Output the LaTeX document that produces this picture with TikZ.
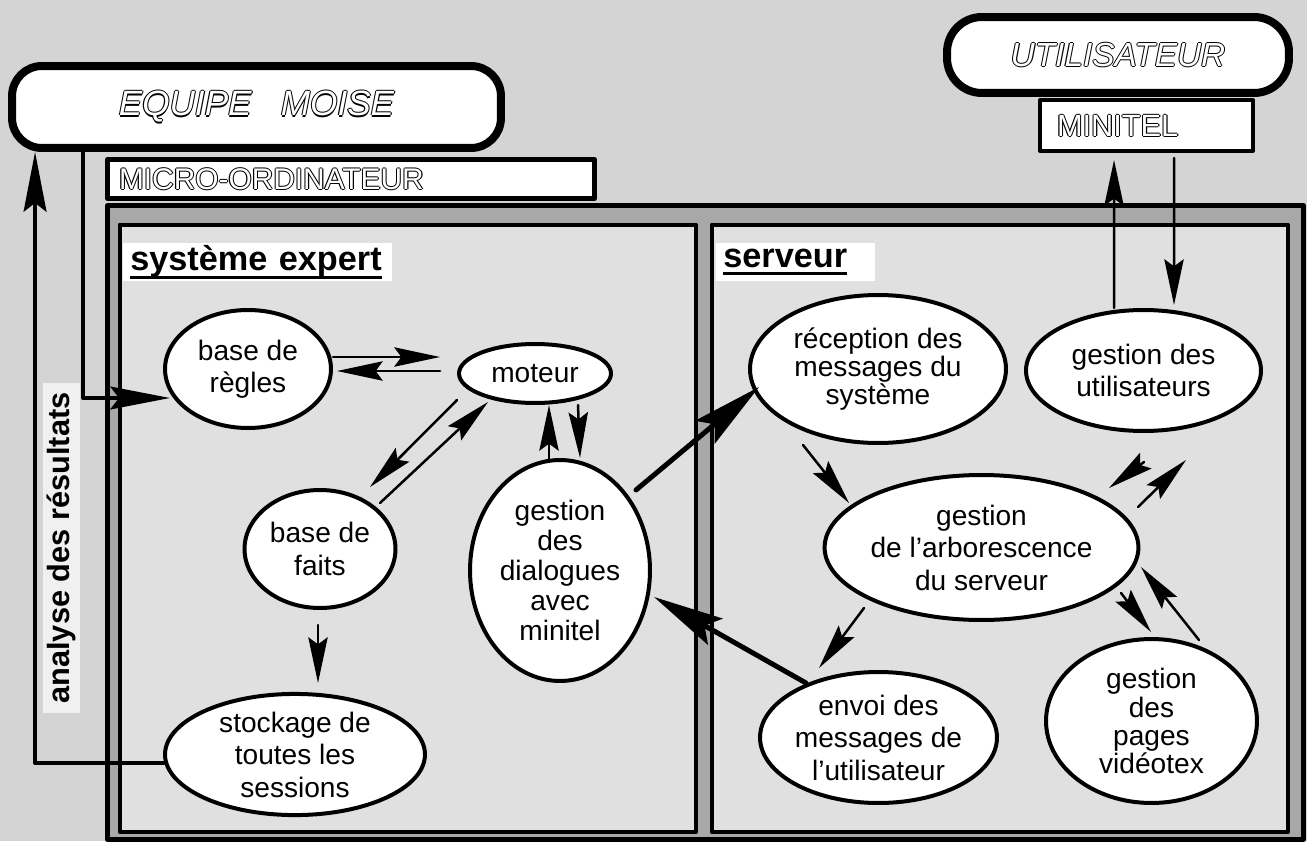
\documentclass[tikz,border=0pt]{standalone}
\usepackage{fontspec}
\setmainfont{Liberation Sans}
\usetikzlibrary{calc,arrows.meta,shapes.geometric}

% lettres creuses (contour noir, interieur blanc)
\newcommand{\creux}[1]{\leavevmode
  \rlap{\kern0.6pt\textcolor{black}{#1}}\rlap{\kern-0.6pt\textcolor{black}{#1}}%
  \rlap{\raisebox{0.6pt}{\textcolor{black}{#1}}}\rlap{\raisebox{-0.6pt}{\textcolor{black}{#1}}}%
  \textcolor{white}{#1}}
% soulignement epais
\newcommand{\souligne}[1]{\setbox0\hbox{#1}\rlap{\vrule width\wd0 height -3pt depth 4.8pt}\box0}

\begin{document}
\begin{tikzpicture}[x=0.02cm, y=-0.02cm,
  >={Stealth[length=26pt,width=11pt,inset=4pt]},
  line cap=round, line join=round,
  bulle/.style={ellipse, draw, line width=0.08cm, fill=white, inner sep=0pt,
    align=center, font=\fontsize{16}{18.5}\selectfont},
  boite/.style={draw, fill=white, inner sep=0pt},
  etiquette/.style={anchor=west, fill=white, inner xsep=0.14cm, inner ysep=0pt,
    minimum height=0.78cm, align=left, font=\bfseries\fontsize{19.5}{22}\selectfont},
  fleche/.style={->, line width=0.05cm},
  grosse/.style={-{Stealth[length=40pt,width=17pt,inset=7pt]}, line width=0.1cm},
  liaison/.style={-{Stealth[length=34pt,width=13pt,inset=5pt]}, line width=0.07cm}]

  % ===== couleurs =====
  \def\fondcol{black!17}
  \def\panneaucol{black!12}
  \def\bandecol{black!34}

  % ===== fond =====
  \fill[\fondcol] (0,0) rectangle (1307,841);
  \useasboundingbox (0,0) rectangle (1307,841);

  % ===== cadre micro-ordinateur =====
  \draw[line width=0.1cm, fill=\bandecol] (107.5,205.5) rectangle (1303.5,839.5);
  \draw[line width=0.08cm, fill=\panneaucol] (119.5,224.5) rectangle (695.5,832);
  \draw[line width=0.08cm, fill=\panneaucol] (711.5,224.5) rectangle (1288,832);

  % ---- titres des panneaux ----
  \node[etiquette, text width=5.1cm] (sysexp) at (123,262) {\souligne{système expert}};
  \node[etiquette, text width=2.9cm] (serveur) at (716,262) {\souligne{serveur}};

  \node[rotate=90, fill=black!6, minimum width=6.6cm, minimum height=0.74cm,
    inner sep=0pt, font=\bfseries\fontsize{17.5}{20}\selectfont]
    (analyse) at (61.5,548) {analyse des résultats};

  % ===== boites du haut =====
  \node[boite, rounded corners=0.6cm, line width=0.16cm,
    minimum width=9.78cm, minimum height=1.64cm,
    font=\itshape\fontsize{20}{24}\selectfont]
    (equipe) at (256.5,107) {\creux{EQUIPE\ \ \ MOISE}};

  \node[boite, line width=0.1cm, minimum height=0.78cm, text width=9.28cm,
    inner xsep=0.23cm, align=left, font=\fontsize{17}{20}\selectfont]
    (micro) at (351,179) {\creux{MICRO-ORDINATEUR}};

  \node[boite, line width=0.08cm, minimum height=1.02cm, text width=3.58cm,
    inner xsep=0.34cm, align=left, font=\fontsize{17.5}{20}\selectfont]
    (minitel) at (1146.5,125.5) {\creux{MINITEL}};

  \node[boite, rounded corners=0.7cm, line width=0.16cm,
    minimum width=6.84cm, minimum height=1.52cm,
    font=\itshape\fontsize{19}{23}\selectfont]
    (usager) at (1118,55) {\creux{UTILISATEUR}};

  % ===== systeme expert =====
  \node[bulle, minimum width=3.32cm, minimum height=2.36cm] (regles) at (248,369) {base de\\règles};
  \node[bulle, minimum width=3.04cm, minimum height=1.18cm] (moteur) at (535,373.5) {moteur};
  \node[bulle, minimum width=3.02cm, minimum height=2.36cm] (faits) at (320,549) {base de\\faits};
  \node[bulle, minimum width=3.6cm, minimum height=4.42cm, font=\fontsize{16}{17}\selectfont]
    (dialogue) at (560,570.5) {gestion\\des\\dialogues\\avec\\minitel};
  \node[bulle, minimum width=5.2cm, minimum height=2.42cm] (stockage) at (295,754.5) {stockage de\\toutes les\\sessions};

  % ===== serveur =====
  \node[bulle, minimum width=5.12cm, minimum height=2.96cm, font=\fontsize{16}{16}\selectfont]
    (reception) at (878,369) {réception des\\messages du\\système};
  \node[bulle, minimum width=4.7cm, minimum height=2.42cm] (gusers) at (1143.5,370.5) {gestion des\\utilisateurs};
  \node[bulle, minimum width=6.14cm, minimum height=2.9cm] (arbo) at (981.5,547.5) {gestion\\de l'arborescence\\du serveur};
  \node[bulle, minimum width=4.74cm, minimum height=2.62cm] (envoi) at (878.5,737.5) {envoi des\\messages de\\l'utilisateur};
  \node[bulle, minimum width=4.22cm, minimum height=3.28cm, font=\fontsize{16}{16}\selectfont]
    (pages) at (1151.5,721) {gestion\\des\\pages\\vidéotex};

  % ===== fleches =====
  % ---- regles <-> moteur ----
  \draw[fleche] ($(regles)+(85,-12)$) -- ($(moteur)+(-95,-16.5)$);
  \draw[fleche] ($(moteur)+(-95,-2.5)$) -- ($(regles)+(89,2)$);

  % ---- moteur <-> faits ----
  \draw[fleche] ($(moteur)+(-78,26.5)$) -- ($(faits)+(50,-62)$);
  \draw[fleche] ($(faits)+(60,-46)$) -- ($(moteur)+(-47,28.5)$);

  % ---- moteur <-> dialogue ----
  \draw[fleche] ($(dialogue)+(-11,-110.5)$) -- ($(moteur)+(14,31.5)$);
  \draw[fleche] ($(moteur)+(43,31.5)$) -- ($(dialogue)+(20,-112.5)$);

  % ---- faits -> stockage ----
  \draw[fleche] ($(faits)+(-2,76)$) -- ($(stockage)+(23,-71.5)$);

  % ---- liaisons avec l'equipe ----
  \draw[liaison] ($(stockage)+(-131,8.5)$) -| ($(equipe.south west)+(27,0)$);
  \draw[liaison] ($(equipe.south west)+(75,0)$) |- ($(regles)+(-78,29)$);

  % ---- dialogue <-> serveur ----
  \draw[grosse] ($(dialogue)+(76,-80.5)$) -- ($(reception)+(-119,18)$);
  \draw[grosse] ($(envoi)+(-72.5,-54.5)$) -- ($(dialogue)+(94,26.5)$);

  % ---- dans le serveur ----
  \draw[fleche] ($(reception)+(-75,76)$) -- ($(arbo)+(-132.5,-44.5)$);
  \draw[fleche] ($(gusers)+(0.5,91.5)$) -- ($(arbo)+(127.5,-59.5)$);
  \draw[fleche] ($(arbo)+(156.5,-40.5)$) -- ($(gusers)+(42.5,89.5)$);
  \draw[fleche] ($(arbo)+(-117.5,60.5)$) -- ($(envoi)+(-59.5,-69.5)$);
  \draw[fleche] ($(arbo)+(139.5,45.5)$) -- ($(pages)+(-0.5,-89)$);
  \draw[fleche] ($(pages)+(47.5,-81)$) -- ($(arbo)+(159.5,19.5)$);

  % ---- minitel <-> utilisateurs ----
  \draw[fleche] ($(gusers)+(-29.5,-62.5)$) -- ($(minitel.south west)+(76,7)$);
  \draw[fleche] ($(minitel.south west)+(136,5)$) -- ($(gusers)+(30.5,-65.5)$);

\end{tikzpicture}
\end{document}
